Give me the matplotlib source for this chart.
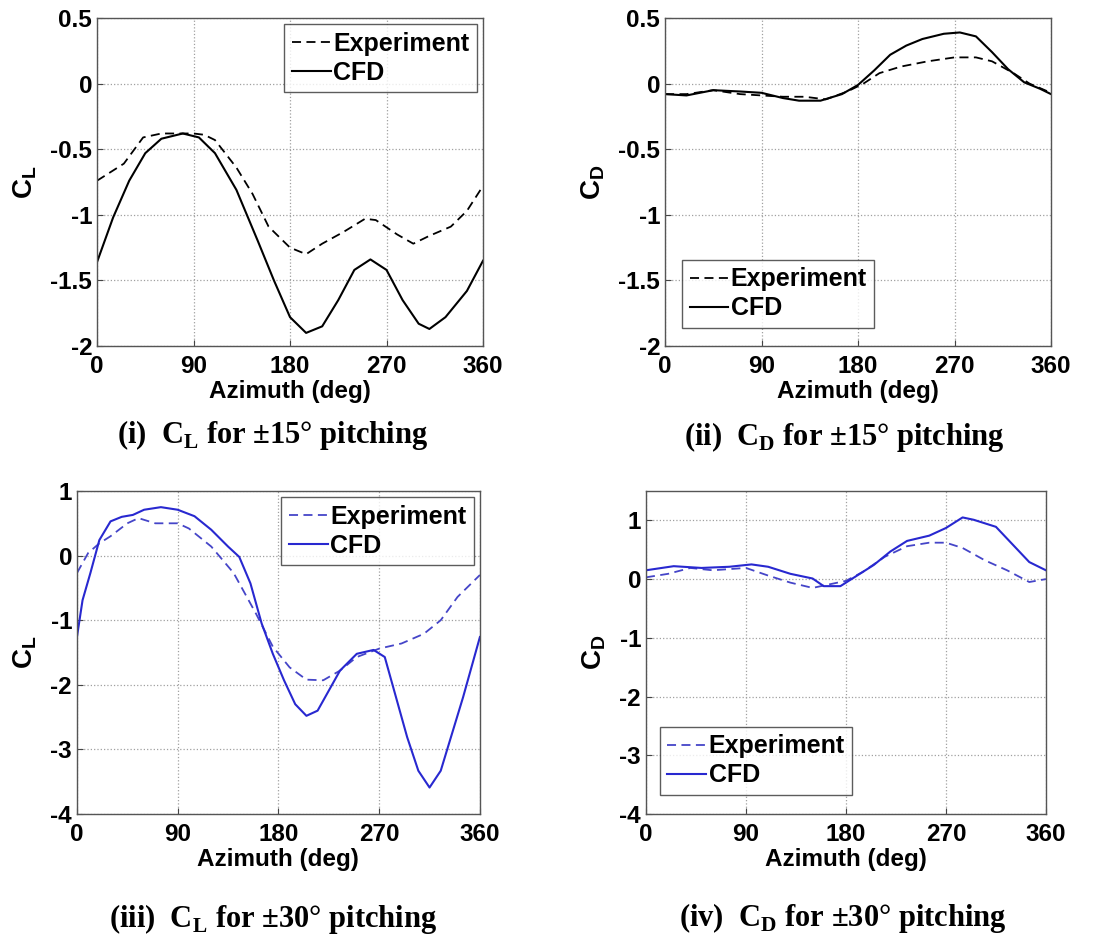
import numpy as np
import matplotlib.pyplot as plt

# azimuth (deg) and coefficients
az_cl15_exp = [0, 25, 43, 60, 90, 100, 110, 130, 145, 160, 180, 195, 210, 230, 250, 260, 280, 295, 310, 330, 345, 360]
cl15_exp = [-0.74, -0.61, -0.41, -0.38, -0.38, -0.39, -0.43, -0.64, -0.84, -1.09, -1.25, -1.30, -1.22, -1.13,
            -1.03, -1.04, -1.15, -1.22, -1.16, -1.09, -0.97, -0.78]
az_cl15_cfd = [0, 15, 30, 45, 60, 80, 95, 110, 130, 150, 165, 180, 195, 210, 225, 240, 255, 270, 285, 300,
               310, 325, 345, 360]
cl15_cfd = [-1.36, -1.02, -0.74, -0.53, -0.42, -0.38, -0.41, -0.53, -0.81, -1.20, -1.50, -1.78, -1.90, -1.85,
            -1.65, -1.42, -1.34, -1.42, -1.65, -1.83, -1.87, -1.78, -1.58, -1.35]

az_cd15_exp = [0, 20, 45, 70, 90, 110, 130, 150, 170, 185, 200, 220, 245, 270, 290, 305, 325, 340, 360]
cd15_exp = [-0.08, -0.08, -0.05, -0.08, -0.09, -0.10, -0.10, -0.12, -0.06, 0.0, 0.08, 0.13, 0.17, 0.20, 0.20,
            0.17, 0.08, 0.0, -0.07]
az_cd15_cfd = [0, 20, 45, 70, 90, 110, 125, 145, 165, 180, 195, 210, 225, 240, 260, 275, 290, 305, 320, 335,
               350, 360]
cd15_cfd = [-0.08, -0.09, -0.05, -0.06, -0.07, -0.11, -0.13, -0.13, -0.08, -0.01, 0.10, 0.22, 0.29, 0.34, 0.38,
            0.39, 0.36, 0.24, 0.11, 0.01, -0.04, -0.08]

az_cl30_exp = [0, 10, 20, 30, 45, 55, 70, 90, 100, 120, 140, 160, 175, 190, 205, 220, 235, 250, 270, 290, 310,
               325, 340, 360]
cl30_exp = [-0.27, 0.04, 0.19, 0.30, 0.50, 0.58, 0.50, 0.50, 0.42, 0.14, -0.27, -0.90, -1.41, -1.73, -1.92,
            -1.93, -1.78, -1.57, -1.44, -1.36, -1.21, -1.00, -0.64, -0.30]
az_cl30_cfd = [0, 5, 12, 20, 30, 40, 50, 60, 75, 90, 105, 120, 135, 145, 155, 165, 175, 185, 195, 205, 215, 225,
               235, 250, 265, 275, 285, 295, 305, 315, 325, 335, 345, 355, 360]
cl30_cfd = [-1.26, -0.69, -0.27, 0.24, 0.53, 0.60, 0.63, 0.71, 0.75, 0.71, 0.61, 0.40, 0.14, -0.02, -0.43, -1.05,
            -1.52, -1.93, -2.30, -2.48, -2.40, -2.09, -1.78, -1.52, -1.46, -1.57, -2.19, -2.81, -3.33, -3.59,
            -3.33, -2.76, -2.19, -1.57, -1.26]

az_cd30_exp = [0, 20, 40, 60, 90, 110, 130, 150, 165, 180, 195, 215, 235, 255, 270, 285, 305, 325, 345, 360]
cd30_exp = [0.03, 0.09, 0.19, 0.15, 0.19, 0.06, -0.06, -0.15, -0.09, -0.03, 0.12, 0.38, 0.56, 0.62, 0.62, 0.53,
            0.32, 0.15, -0.05, 0.0]
az_cd30_cfd = [0, 25, 50, 75, 95, 110, 130, 150, 160, 175, 190, 205, 220, 235, 255, 270, 285, 295, 315, 330,
               345, 360]
cd30_cfd = [0.15, 0.22, 0.19, 0.21, 0.25, 0.21, 0.09, 0.01, -0.12, -0.12, 0.06, 0.24, 0.47, 0.65, 0.74, 0.87,
            1.05, 1.01, 0.89, 0.59, 0.29, 0.15]

x_ticks = [0, 90, 180, 270, 360]
yt_15 = [-2, -1.5, -1, -0.5, 0, 0.5]
yt_15_labels = ['-2', '-1.5', '-1', '-0.5', '0', '0.5']
yt_30 = [-4, -3, -2, -1, 0, 1]
yt_30_labels = ['-4', '-3', '-2', '-1', '0', '1']

plt.rcParams['font.family'] = 'Liberation Sans'
plt.rcParams['font.weight'] = 'bold'
plt.rcParams['mathtext.fontset'] = 'custom'
plt.rcParams['mathtext.rm'] = 'Liberation Sans:bold'
plt.rcParams['mathtext.bf'] = 'Liberation Sans:bold'

fig = plt.figure(figsize=(11.04, 9.39), dpi=100)

BLUE = '#2828d0'
BLUE_D = '#4545c8'


def setup(ax, yticks, ylabels, ylim, ylab):
    ax.set_xlim(0, 360)
    ax.set_ylim(*ylim)
    ax.set_xticks(x_ticks)
    ax.set_xticklabels([str(t) for t in x_ticks], fontsize=17.5, fontweight='bold')
    ax.set_yticks(yticks)
    ax.set_yticklabels(ylabels, fontsize=17.5, fontweight='bold')
    ax.tick_params(direction='in', length=4, color='#444444')
    ax.tick_params(axis='x', pad=6.5)
    ax.tick_params(axis='y', pad=3.5)
    ax.grid(True, linestyle=':', color='#a0a0a0', linewidth=0.9)
    for s in ax.spines.values():
        s.set_color('#555555')
        s.set_linewidth(1.0)
    ax.set_xlabel('Azimuth (deg)', fontsize=17.5, fontweight='bold', labelpad=1.5)
    ax.set_ylabel(ylab, fontsize=20, fontweight='bold', labelpad=8)


def legend(ax, loc, anchor=None):
    if anchor is not None:
        kw = dict(bbox_to_anchor=anchor, borderaxespad=0)
    else:
        kw = dict(borderaxespad=0.25)
    leg = ax.legend(loc=loc, frameon=True, fancybox=False, handlelength=1.55,
                    handletextpad=0.1, labelspacing=0.2, borderpad=0.3,
                    prop={'weight': 'bold', 'size': 18}, **kw)
    leg.get_frame().set_edgecolor('#333333')
    leg.get_frame().set_linewidth(1.0)


ax1 = fig.add_axes([0.0879, 0.6315, 0.3496, 0.3493])
ax1.plot(az_cl15_exp, cl15_exp, color='black', linestyle='--', dashes=(5, 3), linewidth=1.3, label='Experiment')
ax1.plot(az_cl15_cfd, cl15_cfd, color='black', linewidth=1.5, label='CFD')
setup(ax1, yt_15, yt_15_labels, (-2, 0.5), r'C$_\mathregular{L}$')
legend(ax1, 'upper right')

ax2 = fig.add_axes([0.6024, 0.6315, 0.3496, 0.3493])
ax2.plot(az_cd15_exp, cd15_exp, color='black', linestyle='--', dashes=(5, 3), linewidth=1.3, label='Experiment')
ax2.plot(az_cd15_cfd, cd15_cfd, color='black', linewidth=1.5, label='CFD')
setup(ax2, yt_15, yt_15_labels, (-2, 0.5), r'C$_\mathregular{D}$')
legend(ax2, 'lower left', (0.044, 0.055))

ax3 = fig.add_axes([0.0697, 0.1331, 0.365, 0.344])
ax3.plot(az_cl30_exp, cl30_exp, color=BLUE_D, linestyle='--', dashes=(5, 3), linewidth=1.3, label='Experiment')
ax3.plot(az_cl30_cfd, cl30_cfd, color=BLUE, linewidth=1.5, label='CFD')
setup(ax3, yt_30, yt_30_labels, (-4, 1), r'C$_\mathregular{L}$')
legend(ax3, 'upper right')

ax4 = fig.add_axes([0.5851, 0.1331, 0.3623, 0.344])
ax4.plot(az_cd30_exp, cd30_exp, color=BLUE_D, linestyle='--', dashes=(5, 3), linewidth=1.3, label='Experiment')
ax4.plot(az_cd30_cfd, cd30_cfd, color=BLUE, linewidth=1.5, label='CFD')
setup(ax4, yt_30, yt_30_labels, (-4, 1.5), r'C$_\mathregular{D}$')
legend(ax4, 'lower left', (0.035, 0.059))

cap = dict(fontsize=22, fontweight='bold', family='Liberation Serif', ha='center', va='baseline')
fig.text(273 / 1104, 1 - 443 / 939, r'(i)  C$_\mathregular{L}$ for ±15° pitching', **cap)
fig.text(844 / 1104, 1 - 445 / 939, r'(ii)  C$_\mathregular{D}$ for ±15° pitching', **cap)
fig.text(273 / 1104, 1 - 927 / 939, r'(iii)  C$_\mathregular{L}$ for ±30° pitching', **cap)
fig.text(843 / 1104, 1 - 926 / 939, r'(iv)  C$_\mathregular{D}$ for ±30° pitching', **cap)

fig.savefig('out.png', dpi=100)
